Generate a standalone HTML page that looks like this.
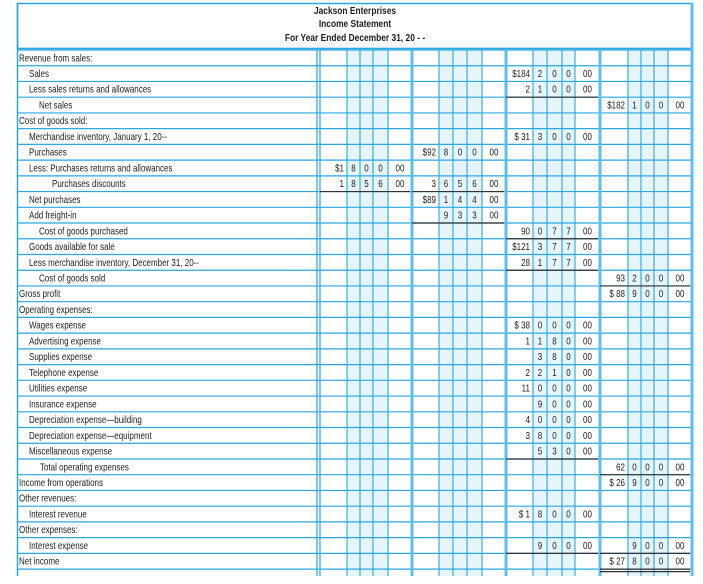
<!DOCTYPE html>
<html><head><meta charset="utf-8"><style>
html,body{margin:0;padding:0;background:#fff;}
svg{display:block;}
text{font-family:"Liberation Sans Narrow","Liberation Sans",sans-serif;fill:#222;}
</style></head><body>
<svg id="s" width="703" height="584" xmlns="http://www.w3.org/2000/svg"></svg>
<script>
const s=document.getElementById('s');const NS='http://www.w3.org/2000/svg';
function el(t,a,txt,p){const e=document.createElementNS(NS,t);for(const k in a)e.setAttribute(k,a[k]);if(txt!==undefined)e.textContent=txt;(p||s).appendChild(e);return e;}
const C='#2aa8e0',TOP=50,RH=15.73,N=33,BOT=576,SX=0.8;
const groups=[[320,347,360,373,388,412],[412,439,453,467,482,506],[506,533,547,562,575,600],[600,628,641,654,668,692]];
groups.forEach(g=>el('rect',{x:g[1],y:TOP,width:g[4]-g[1],height:BOT-TOP,fill:'#e6f4fb'}));
for(let i=0;i<=N;i++){const y=TOP+i*RH;el('line',{x1:17,x2:692,y1:y,y2:y,stroke:C,'stroke-width':1.2});}
el('rect',{x:17.5,y:3.5,width:675,height:45,fill:'none',stroke:C,'stroke-width':1.5});
el('line',{x1:17,x2:692,y1:48.5,y2:48.5,stroke:C,'stroke-width':1.2});
el('line',{x1:17.5,x2:17.5,y1:3,y2:BOT,stroke:C,'stroke-width':1.5});
el('line',{x1:317,x2:317,y1:TOP,y2:BOT,stroke:C,'stroke-width':1.2});
el('line',{x1:320,x2:320,y1:TOP,y2:BOT,stroke:C,'stroke-width':1.2});
groups.forEach(g=>{for(let j=1;j<5;j++)el('line',{x1:g[j],x2:g[j],y1:TOP,y2:BOT,stroke:C,'stroke-width':1.1});});
[412,506,600].forEach(x=>el('line',{x1:x,x2:x,y1:TOP,y2:BOT,stroke:'#5cc0ea','stroke-width':3}));
el('line',{x1:692,x2:692,y1:3,y2:BOT,stroke:'#5cc0ea','stroke-width':3});
const G=el('g',{transform:'scale('+SX+',1)'});
[['Jackson Enterprises',14],['Income Statement',27],['For Year Ended December 31, 20 - -',41]].forEach(h=>el('text',{x:355/SX,y:h[1],'font-size':10.5,'font-weight':'bold','text-anchor':'middle'},h[0],G));
const L=[['Revenue from sales:',19],['Sales',29],['Less sales returns and allowances',29],['Net sales',39],['Cost of goods sold:',19],['Merchandise inventory, January 1, 20--',29],['Purchases',29],['Less:  Purchases returns and allowances',29],['Purchases discounts',52],['Net purchases',29],['Add freight-in',29],['Cost of goods purchased',39],['Goods available for sale',29],['Less merchandise inventory, December 31, 20--',29],['Cost of goods sold',39],['Gross profit',19],['Operating expenses:',19],['Wages expense',29],['Advertising expense',29],['Supplies expense',29],['Telephone expense',29],['Utilities expense',29],['Insurance expense',29],['Depreciation expense\u2014building',29],['Depreciation expense\u2014equipment',29],['Miscellaneous expense',29],['Total operating expenses',40],['Income from operations',19],['Other revenues:',19],['Interest revenue',29],['Other expenses:',19],['Interest expense',29],['Net income',19]];
L.forEach((l,i)=>el('text',{x:l[1]/SX,y:TOP+i*RH+11.3,'font-size':10},l[0],G));
const A=[[1,2,'$184','200'],[2,2,'2','100',1],[3,3,'$182','100'],[5,2,'$ 31','300'],[6,1,'$92','800'],[7,0,'$1','800'],[8,0,'1','856',1],[8,1,'3','656',1],[9,1,'$89','144'],[10,1,'','933',1],[11,2,'90','077',1],[12,2,'$121','377'],[13,2,'28','177',1],[14,3,'93','200',1],[15,3,'$ 88','900'],[17,2,'$ 38','000'],[18,2,'1','180'],[19,2,'','380'],[20,2,'2','210'],[21,2,'11','000'],[22,2,'','900'],[23,2,'4','000'],[24,2,'3','800'],[25,2,'','530',1],[26,3,'62','000',1],[27,3,'$ 26','900'],[29,2,'$ 1','800'],[31,2,'','900',1],[31,3,'','900',1],[32,3,'$ 27','800',2]];
A.forEach(a=>{const [r,gi,d,dg,u]=a;const g=groups[gi];const y=TOP+r*RH+11.3;
 if(d)el('text',{x:(g[1]-3)/SX,y:y,'font-size':10,'text-anchor':'end'},d,G);
 for(let k=0;k<3;k++)el('text',{x:((g[k+1]+g[k+2])/2)/SX,y:y,'font-size':10,'text-anchor':'middle'},dg[k],G);
 el('text',{x:((g[4]+g[5])/2)/SX,y:y,'font-size':10,'text-anchor':'middle'},'00',G);
 const yb=TOP+(r+1)*RH;
 if(u)el('line',{x1:g[0],x2:g[5]-2,y1:yb,y2:yb,stroke:'#333','stroke-width':1.2});
 if(u==2)el('line',{x1:g[0],x2:g[5]-2,y1:yb+2.5,y2:yb+2.5,stroke:'#333','stroke-width':1.2});
});
</script>
</body></html>
